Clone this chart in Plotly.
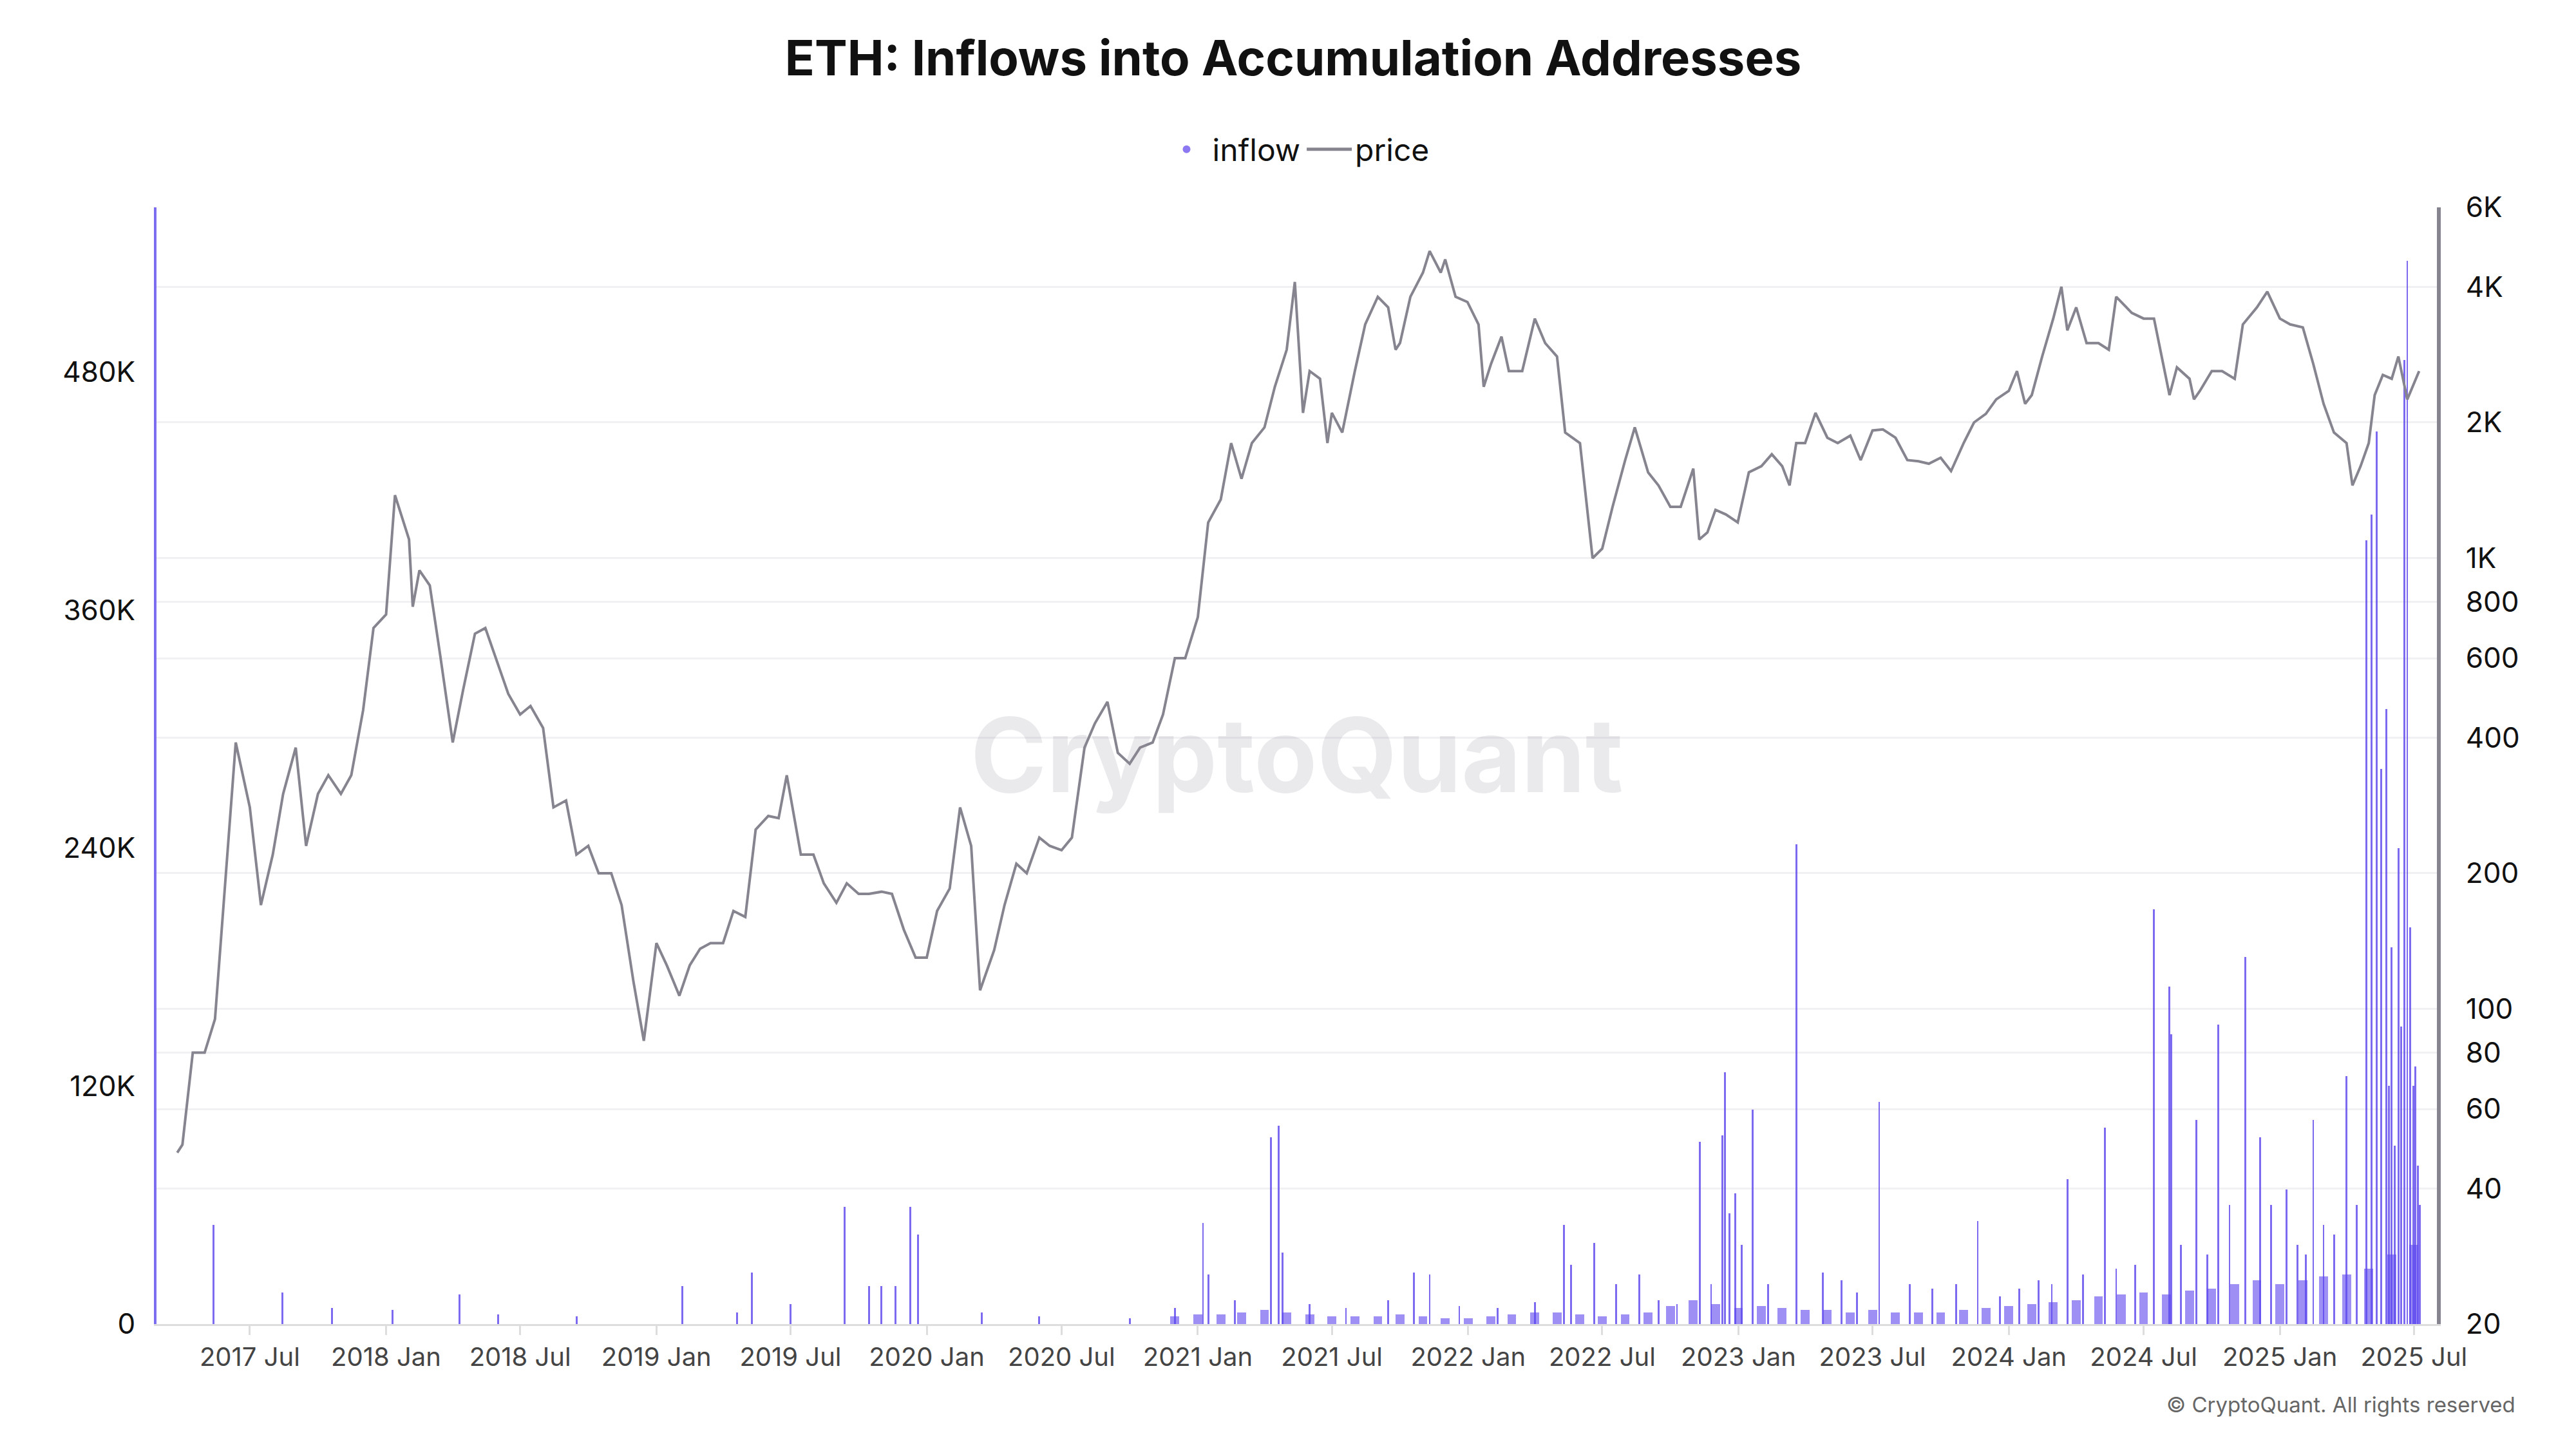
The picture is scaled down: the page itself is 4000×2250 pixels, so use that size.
import plotly.graph_objects as go
import pandas as pd

# ETH price (USD), approx semi-monthly
price_dates = [
    "2017-03-25", "2017-04-01", "2017-04-15", "2017-05-01", "2017-05-15", "2017-06-01", "2017-06-12",
    "2017-07-01", "2017-07-16", "2017-08-01", "2017-08-15", "2017-09-01", "2017-09-15", "2017-10-01",
    "2017-10-15", "2017-11-01", "2017-11-15", "2017-12-01", "2017-12-15", "2018-01-01", "2018-01-13",
    "2018-02-01", "2018-02-06", "2018-02-15", "2018-03-01", "2018-03-15", "2018-04-01", "2018-04-15",
    "2018-05-01", "2018-05-15", "2018-06-01", "2018-06-15", "2018-07-01", "2018-07-15", "2018-08-01",
    "2018-08-15", "2018-09-01", "2018-09-15", "2018-10-01", "2018-10-15", "2018-11-01", "2018-11-15",
    "2018-12-01", "2018-12-15", "2019-01-01", "2019-01-15", "2019-02-01", "2019-02-15", "2019-03-01",
    "2019-03-15", "2019-04-01", "2019-04-15", "2019-05-01", "2019-05-15", "2019-06-01", "2019-06-15",
    "2019-06-26", "2019-07-15", "2019-08-01", "2019-08-15", "2019-09-01", "2019-09-15", "2019-10-01",
    "2019-10-15", "2019-11-01", "2019-11-15", "2019-12-01", "2019-12-17", "2020-01-01", "2020-01-15",
    "2020-02-01", "2020-02-15", "2020-03-01", "2020-03-13", "2020-04-01", "2020-04-15", "2020-05-01",
    "2020-05-15", "2020-06-01", "2020-06-15", "2020-07-01", "2020-07-15", "2020-08-01", "2020-08-15",
    "2020-09-01", "2020-09-15", "2020-10-01", "2020-10-15", "2020-11-01", "2020-11-15", "2020-12-01",
    "2020-12-15", "2021-01-01", "2021-01-15", "2021-02-01", "2021-02-15", "2021-03-01", "2021-03-15",
    "2021-04-01", "2021-04-15", "2021-05-01", "2021-05-12", "2021-05-23", "2021-06-01", "2021-06-15",
    "2021-06-25", "2021-07-01", "2021-07-15", "2021-08-01", "2021-08-15", "2021-09-01", "2021-09-15",
    "2021-09-25", "2021-10-01", "2021-10-15", "2021-11-01", "2021-11-10", "2021-11-25", "2021-12-01",
    "2021-12-15", "2021-12-31", "2022-01-15", "2022-01-22", "2022-02-01", "2022-02-15", "2022-02-25",
    "2022-03-15", "2022-04-01", "2022-04-15", "2022-05-01", "2022-05-12", "2022-06-01", "2022-06-18",
    "2022-07-01", "2022-07-15", "2022-08-01", "2022-08-14", "2022-09-01", "2022-09-15", "2022-10-01",
    "2022-10-15", "2022-11-01", "2022-11-09", "2022-11-20", "2022-12-01", "2022-12-15", "2022-12-31",
    "2023-01-15", "2023-02-01", "2023-02-15", "2023-03-01", "2023-03-11", "2023-03-20", "2023-04-01",
    "2023-04-15", "2023-05-01", "2023-05-15", "2023-06-01", "2023-06-15", "2023-07-01", "2023-07-15",
    "2023-08-01", "2023-08-17", "2023-09-01", "2023-09-15", "2023-10-01", "2023-10-15", "2023-11-01",
    "2023-11-15", "2023-12-01", "2023-12-15", "2024-01-01", "2024-01-12", "2024-01-23", "2024-02-01",
    "2024-02-15", "2024-03-01", "2024-03-12", "2024-03-20", "2024-04-01", "2024-04-15", "2024-05-01",
    "2024-05-15", "2024-05-25", "2024-06-15", "2024-07-01", "2024-07-15", "2024-08-05", "2024-08-15",
    "2024-09-01", "2024-09-07", "2024-09-15", "2024-10-01", "2024-10-15", "2024-11-01", "2024-11-12",
    "2024-12-01", "2024-12-15", "2025-01-01", "2025-01-15", "2025-02-01", "2025-02-15", "2025-03-01",
    "2025-03-15", "2025-04-01", "2025-04-09", "2025-04-20", "2025-05-01", "2025-05-09", "2025-05-20",
    "2025-06-01", "2025-06-10", "2025-06-22", "2025-07-01", "2025-07-08",
]
price_values = [
    48, 50, 80, 80, 95, 230, 390,
    280, 170, 220, 300, 380, 230, 300,
    330, 300, 330, 460, 700, 750, 1380,
    1100, 780, 940, 870, 610, 390, 510,
    680, 700, 580, 500, 450, 470, 420,
    280, 290, 220, 230, 200, 200, 170,
    115, 85, 140, 125, 107, 125, 136,
    140, 140, 165, 160, 250, 268, 265,
    330, 220, 220, 190, 172, 190, 180,
    180, 182, 180, 150, 130, 130, 165,
    185, 280, 230, 110, 135, 170, 210,
    200, 240, 230, 225, 240, 380, 430,
    480, 370, 350, 380, 390, 450, 600,
    600, 740, 1200, 1350, 1800, 1500, 1800,
    1950, 2400, 2900, 4100, 2100, 2600, 2500,
    1800, 2100, 1900, 2600, 3300, 3800, 3600,
    2900, 3000, 3800, 4300, 4800, 4300, 4600,
    3800, 3700, 3300, 2400, 2700, 3100, 2600,
    2600, 3400, 3000, 2800, 1900, 1800, 1000,
    1050, 1300, 1650, 1950, 1550, 1450, 1300,
    1300, 1580, 1100, 1140, 1280, 1250, 1200,
    1550, 1600, 1700, 1600, 1450, 1800, 1800,
    2100, 1850, 1800, 1870, 1650, 1920, 1930,
    1850, 1650, 1640, 1620, 1670, 1560, 1800,
    2000, 2090, 2250, 2350, 2600, 2200, 2300,
    2800, 3400, 4000, 3200, 3600, 3000, 3000,
    2900, 3800, 3500, 3400, 3400, 2300, 2650,
    2500, 2250, 2350, 2600, 2600, 2500, 3300,
    3600, 3900, 3400, 3300, 3250, 2700, 2200,
    1900, 1800, 1450, 1600, 1800, 2300, 2550,
    2500, 2800, 2250, 2450, 2600,
]

# Inflows into accumulation addresses (ETH), visible bars
inflow_dates = [
    "2017-05-13", "2017-08-14", "2017-10-20", "2018-01-10", "2018-04-10", "2018-06-01",
    "2018-09-15", "2019-02-05", "2019-04-20", "2019-05-10", "2019-07-01", "2019-09-12",
    "2019-10-15", "2019-11-01", "2019-11-20", "2019-12-10", "2019-12-20", "2020-03-15",
    "2020-06-01", "2020-10-01", "2020-12-01", "2021-01-08", "2021-01-15", "2021-02-20",
    "2021-04-10", "2021-04-20", "2021-04-25", "2021-06-01", "2021-07-20", "2021-09-15",
    "2021-10-20", "2021-11-10", "2021-12-20", "2022-02-10", "2022-04-01", "2022-05-10",
    "2022-05-20", "2022-06-20", "2022-07-20", "2022-08-20", "2022-09-15", "2022-10-10",
    "2022-11-10", "2022-11-25", "2022-12-10", "2022-12-14", "2022-12-20", "2022-12-28",
    "2023-01-05", "2023-01-20", "2023-02-10", "2023-03-20", "2023-04-25", "2023-05-20",
    "2023-06-10", "2023-07-10", "2023-08-20", "2023-09-20", "2023-10-22", "2023-11-20",
    "2023-12-20", "2024-01-15", "2024-02-10", "2024-02-28", "2024-03-20", "2024-04-10",
    "2024-05-10", "2024-05-25", "2024-06-20", "2024-07-15", "2024-08-05", "2024-08-07",
    "2024-08-20", "2024-09-10", "2024-09-25", "2024-10-10", "2024-10-25", "2024-11-15",
    "2024-12-05", "2024-12-20", "2025-01-10", "2025-01-25", "2025-02-05", "2025-02-15",
    "2025-03-01", "2025-03-15", "2025-04-01", "2025-04-15", "2025-04-28", "2025-05-05",
    "2025-05-12", "2025-05-18", "2025-05-25", "2025-05-28", "2025-06-01", "2025-06-05",
    "2025-06-10", "2025-06-14", "2025-06-18", "2025-06-22", "2025-06-26", "2025-06-30",
    "2025-07-03", "2025-07-06", "2025-07-09",
]
inflow_values = [
    50000, 16000, 8000, 7000, 15000, 5000,
    4000, 19000, 6000, 26000, 10000, 59000,
    19000, 19000, 19000, 59000, 45000, 6000,
    4000, 3000, 8000, 51000, 25000, 12000,
    94000, 100000, 36000, 10000, 8000, 12000,
    26000, 25000, 9000, 8000, 11000, 50000,
    30000, 41000, 20000, 25000, 12000, 10000,
    92000, 20000, 95000, 127000, 56000, 66000,
    40000, 108000, 20000, 242000, 26000, 22000,
    16000, 112000, 20000, 18000, 20000, 52000,
    14000, 18000, 22000, 20000, 73000, 25000,
    99000, 28000, 30000, 209000, 170000, 146000,
    40000, 103000, 35000, 151000, 60000, 185000,
    94000, 60000, 68000, 40000, 35000, 103000,
    50000, 45000, 125000, 60000, 395000, 408000,
    450000, 280000, 310000, 120000, 190000, 90000,
    240000, 150000, 486000, 536000, 200000, 120000,
    130000, 80000, 60000,
]

# baseline of small inflows, monthly level
base_months = pd.date_range("2020-12-01", "2025-07-01", freq="MS").strftime("%Y-%m-%d").tolist()
base_values = [
    4000, 5000, 5000, 6000, 7000, 6000, 5000, 4000, 4000, 4000, 5000, 4000,
    3000, 3000, 4000, 5000, 6000, 6000, 5000, 4000, 5000, 6000, 9000, 12000,
    10000, 8000, 9000, 8000, 7000, 7000, 6000, 7000, 6000, 6000, 6000, 7000,
    8000, 9000, 10000, 11000, 12000, 14000, 15000, 16000, 15000, 17000, 18000, 20000,
    22000, 20000, 22000, 24000, 25000, 28000, 35000, 40000,
]

W, H = 4000, 2250
PURPLE = "#5b45ec"
GRAY = "#86848f"
FONT = "Inter"

fig = go.Figure()

fig.add_trace(go.Bar(
    x=base_months, y=base_values, width=12 * 86400000,
    marker=dict(color=PURPLE, opacity=0.6, line=dict(width=0)),
    showlegend=False, yaxis="y",
))
fig.add_trace(go.Bar(
    x=inflow_dates, y=inflow_values, width=2.5 * 86400000,
    marker=dict(color=PURPLE, opacity=0.8, line=dict(width=0)),
    showlegend=False, yaxis="y",
))
fig.add_trace(go.Scatter(
    x=price_dates, y=price_values, mode="lines", name="price",
    line=dict(color=GRAY, width=4), yaxis="y2",
))
# legend-only marker for inflow
fig.add_trace(go.Scatter(
    x=[None], y=[None], mode="markers", name="inflow",
    marker=dict(color="#8b78f2", size=44, symbol="circle"),
))

left_ticks = [0, 120000, 240000, 360000, 480000]
right_ticks = [20, 40, 60, 80, 100, 200, 400, 600, 800, 1000, 2000, 4000, 6000]
right_text = ["20", "40", "60", "80", "100", "200", "400", "600", "800", "1K", "2K", "4K", "6K"]

fig.update_layout(
    width=W, height=H,
    paper_bgcolor="white", plot_bgcolor="white",
    margin=dict(l=235, r=224, t=314, b=202),
    font=dict(family=FONT, size=44, color="#111"),
    bargap=0, barmode="overlay",
    title=dict(text="<b>ETH: Inflows into Accumulation Addresses</b>", x=0.5, xanchor="center",
               y=0.975, yanchor="top", font=dict(size=76, family=FONT, color="#111")),
    legend=dict(orientation="h", x=0.5, xanchor="center", y=1.03, yanchor="bottom",
                font=dict(size=48), traceorder="reversed", itemwidth=70,
                itemsizing="constant"),
    xaxis=dict(type="date", range=["2017-02-25", "2025-08-01"], dtick="M6", tick0="2017-07-01",
               tickformat="%Y %b", showgrid=False, ticks="outside", ticklen=14, tickwidth=3,
               tickcolor="#ddd", showline=True, linecolor="#ddd", linewidth=3,
               tickfont=dict(size=40, color="#444")),
    yaxis=dict(range=[0, 563000], tickvals=left_ticks, ticktext=["0", "120K", "240K", "360K", "480K"],
               showgrid=False, zeroline=False, showline=True, linecolor="#7b6cf0", linewidth=4,
               tickfont=dict(size=44), ticklabelstandoff=20),
    yaxis2=dict(type="log", overlaying="y", side="right", range=[1.30103, 3.77815],
                tickvals=right_ticks, ticktext=right_text, showgrid=True, gridcolor="#f1f1f3",
                gridwidth=3, showline=True, linecolor=GRAY, linewidth=6,
                tickfont=dict(size=44), ticklabelstandoff=30, zeroline=False),
)

fig.add_annotation(text="<b>CryptoQuant</b>", x=0.5, y=0.51, xref="paper", yref="paper",
                   showarrow=False, font=dict(size=160, color="rgba(150,145,160,0.2)", family=FONT))
fig.add_annotation(text="© CryptoQuant. All rights reserved", x=1.035, y=-0.085, xref="paper",
                   yref="paper", xanchor="right", showarrow=False,
                   font=dict(size=33, color="#666", family=FONT))

fig.write_html("out.html")
